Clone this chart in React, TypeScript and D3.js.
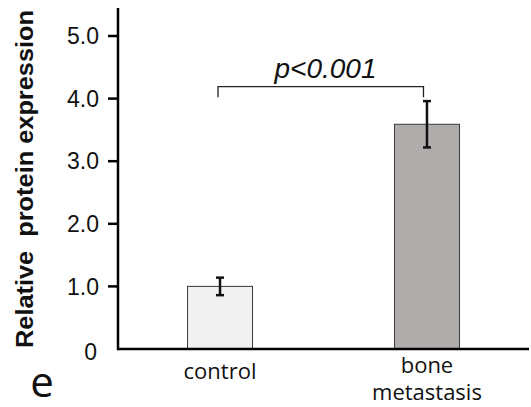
import React from 'react';
import * as d3 from 'd3';

const categories = ['control', 'bone metastasis'];
const means = [1.0, 3.59];
const errors = [0.14, 0.37];
const barColors = ['#f0f0f0', '#b0acab'];
const yTicks = [0, 1, 2, 3, 4, 5];
const pLabel = 'p<0.001';

const W = 531;
const H = 407;
const margin = { top: 8, right: 2, bottom: 58, left: 118 };

const App: React.FC = () => {
  const y = d3
    .scaleLinear()
    .domain([0, 5])
    .range([349, 349 - 5 * 62.6]);
  const x = d3
    .scaleBand<string>()
    .domain(categories)
    .range([margin.left, W - margin.right])
    .paddingInner(0.686)
    .paddingOuter(0.336);

  const base = y(0);
  const bw = x.bandwidth();
  const cx = (c: string) => (x(c) as number) + bw / 2;

  const bracketY = y(4.19);
  const legY = y(4.02);

  return (
    <svg width={W} height={H} style={{ position: 'absolute', left: 0, top: 0 }}>
      <rect width={W} height={H} fill="#fff" />
      {/* bars */}
      {categories.map((c, i) => (
        <rect
          key={c}
          x={x(c)}
          y={y(means[i])}
          width={bw}
          height={base - y(means[i])}
          fill={barColors[i]}
          stroke="#3a3a3a"
          strokeWidth={1}
        />
      ))}
      {/* error bars */}
      {categories.map((c, i) => {
        const hi = y(means[i] + errors[i]);
        const lo = y(means[i] - errors[i]);
        const m = cx(c);
        return (
          <g key={c + '-err'} stroke="#111" strokeWidth={2.5}>
            <line x1={m} x2={m} y1={hi} y2={lo} />
            <line x1={m - 4} x2={m + 4} y1={hi} y2={hi} />
            <line x1={m - 4} x2={m + 4} y1={lo} y2={lo} />
          </g>
        );
      })}
      {/* axes */}
      <line x1={margin.left} x2={margin.left} y1={margin.top} y2={base + 1.2} stroke="#000" strokeWidth={2.5} />
      <line x1={margin.left} x2={W - margin.right} y1={base} y2={base} stroke="#000" strokeWidth={2.5} />
      {yTicks.map((t) => (
        <g key={t}>
          {t > 0 && <line x1={108} x2={margin.left} y1={y(t)} y2={y(t)} stroke="#000" strokeWidth={2.5} />}
          <text
            x={t === 0 ? 97 : 99}
            y={y(t) + (t === 0 ? 3 : 0)}
            dy="0.36em"
            textAnchor="end"
            fontFamily="'Liberation Sans', Arial, sans-serif"
            fontSize={23}
            fill="#111"
          >
            {t === 0 ? '0' : t.toFixed(1)}
          </text>
        </g>
      ))}
      {/* category labels */}
      <text x={cx(categories[0])} y={379} textAnchor="middle" fontFamily="'Open Sans', sans-serif" fontSize={22} fill="#111">
        control
      </text>
      <text textAnchor="middle" fontFamily="'Open Sans', sans-serif" fontSize={22} fill="#111">
        <tspan x={cx(categories[1])} y={373}>bone</tspan>
        <tspan x={cx(categories[1])} y={400}>metastasis</tspan>
      </text>
      {/* y title */}
      <text
        transform={`translate(33,179) rotate(-90)`}
        textAnchor="middle"
        fontFamily="'Liberation Sans', Arial, sans-serif"
        fontWeight="bold"
        fontSize={24}
        fill="#111"
        textLength={338}
        lengthAdjust="spacingAndGlyphs"
        style={{ whiteSpace: 'pre' }}
      >
        {'Relative  protein expression'}
      </text>
      {/* significance bracket */}
      <path
        d={`M${cx(categories[0]) - 2},${legY} V${bracketY} H${cx(categories[1]) - 3.5} V${legY}`}
        fill="none"
        stroke="#222"
        strokeWidth={1.3}
      />
      <text
        x={(cx(categories[0]) + cx(categories[1])) / 2 + 2}
        y={78}
        textAnchor="middle"
        fontFamily="'Liberation Sans', Arial, sans-serif"
        fontStyle="italic"
        fontSize={28}
        fill="#111"
      >
        {pLabel}
      </text>
      {/* panel letter */}
      <text x={42} y={397} textAnchor="middle" fontFamily="'Open Sans', sans-serif" fontSize={42} fill="#111">
        e
      </text>
    </svg>
  );
};

export default App;
